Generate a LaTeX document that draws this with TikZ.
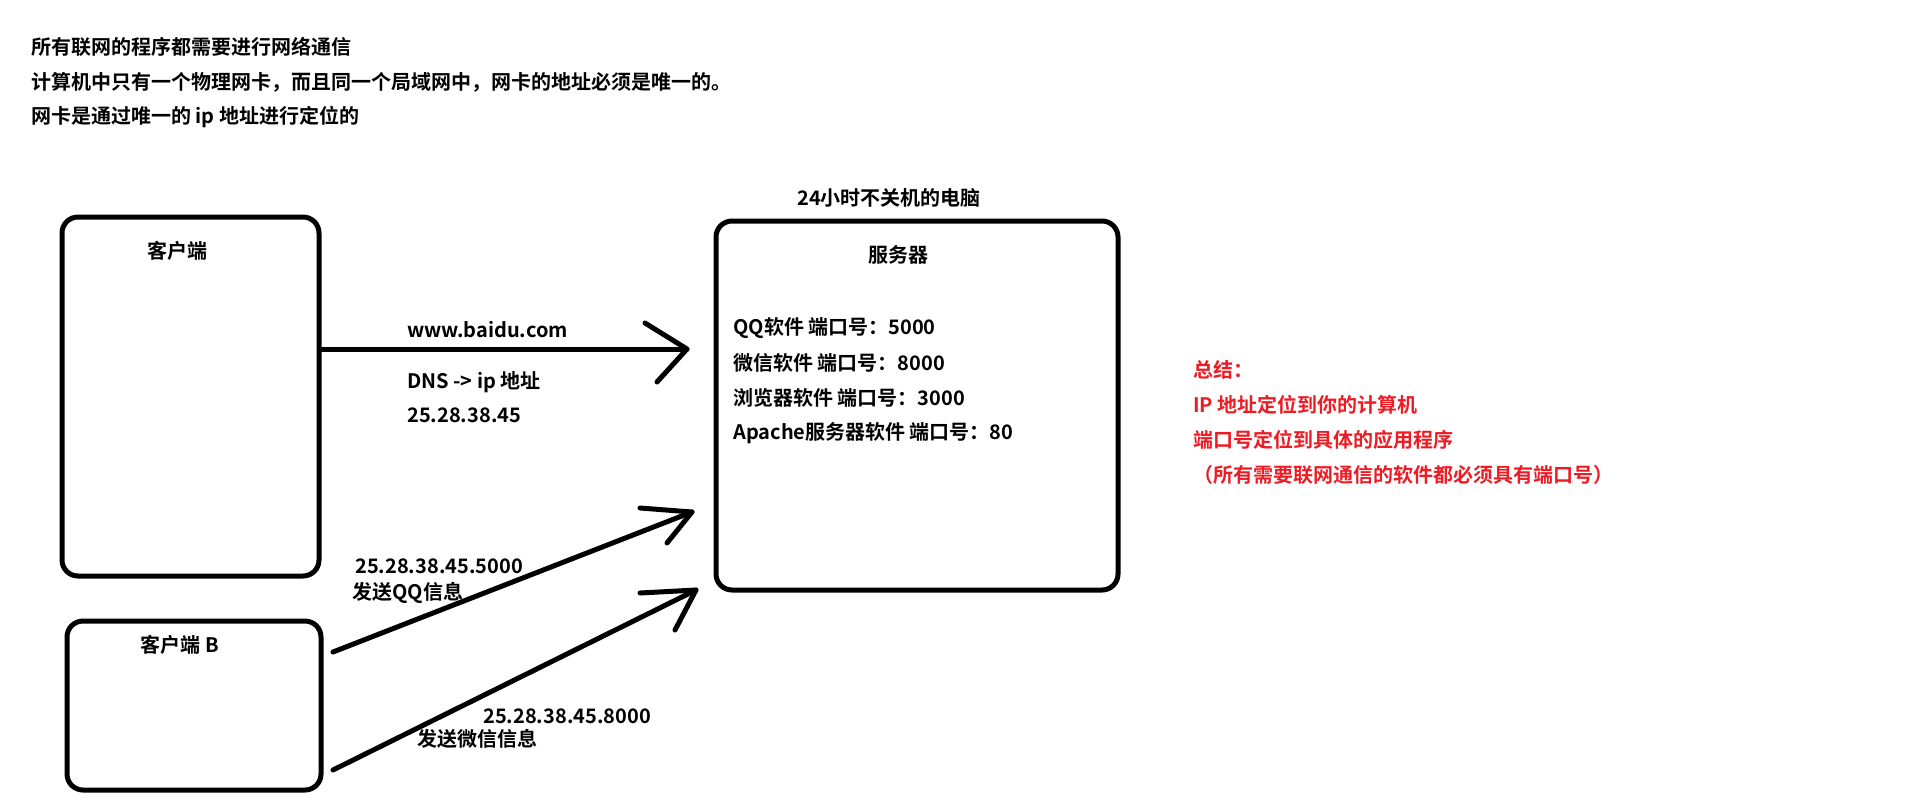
\documentclass[tikz,border=0pt]{standalone}
\usepackage{fontspec}
\setmainfont{Noto Sans CJK SC}[BoldFont={Noto Sans CJK SC Bold}]
\usetikzlibrary{calc}
\definecolor{notered}{RGB}{237,28,36}
\tikzset{
  txt/.style={inner sep=0pt, anchor=west, font=\fontsize{20}{24}\selectfont\bfseries},
  ctxt/.style={txt, anchor=center},
  redtxt/.style={txt, text=notered},
  box/.style={draw=black, line width=5pt, rounded corners=16pt, inner sep=0pt},
  conn/.style={draw=black, line width=5pt, line cap=round, line join=round},
}
\begin{document}
\begin{tikzpicture}[x=1pt, y=-1pt]
  \fill[white] (0,0) rectangle (1910,804);
  \useasboundingbox (0,0) rectangle (1910,804);

  % notes at the top
  \node[txt] (n1) at (31,47) {所有联网的程序都需要进行网络通信};
  \node[txt] (n2) at (31,82) {计算机中只有一个物理网卡，而且同一个局域网中，网卡的地址必须是唯一的。};
  \node[txt] (n3) at (31,117) {网卡是通过唯一的 ip 地址进行定位的};

  % machines
  \node[box, minimum width=257pt, minimum height=359pt] (client) at (190.5,396.5) {};
  \node[ctxt] (clientlbl) at (177,251) {客户端};
  \node[box, minimum width=254pt, minimum height=169pt] (clientb) at (194,705.5) {};
  \node[ctxt] (clientblbl) at (180,645) {客户端 B};
  \node[box, minimum width=402pt, minimum height=369pt] (server) at (917,405.5) {};
  \node[ctxt] (servertop) at (889,198) {24小时不关机的电脑};
  \node[ctxt] (serverlbl) at (898,255) {服务器};
  \node[txt] (p1) at (733,328) {QQ软件 端口号：5000};
  \node[txt] (p2) at (733,363) {微信软件 端口号：8000};
  \node[txt] (p3) at (733,398) {浏览器软件 端口号：3000};
  \node[txt] (p4) at (733,433) {Apache服务器软件 端口号：80};

  % lookup by domain name
  \coordinate (tipA) at (687,349);
  \draw[conn] (client.east |- tipA) -- (tipA);
  \draw[conn] ($(tipA)+(-42,-26)$) -- (tipA) -- ($(tipA)+(-30,33)$);
  \node[txt] (dom) at (407,330) {www.baidu.com};
  \node[txt] (dns) at (407,382) {DNS -> ip 地址};
  \node[txt] (ip) at (407,415) {25.28.38.45};

  % messages sent from client B
  \coordinate (qqStart) at (333,652);
  \coordinate (tipB) at (692,512);
  \draw[conn] (qqStart) -- (tipB);
  \draw[conn] ($(tipB)+(-52,-4)$) -- (tipB) -- ($(tipB)+(-25,31)$);
  \node[txt] (qqaddr) at (355,566) {25.28.38.45.5000};
  \node[txt] (qqmsg) at (352,593) {发送QQ信息};

  \coordinate (wxStart) at (333,770);
  \coordinate (tipC) at (696,590);
  \draw[conn] (wxStart) -- (tipC);
  \draw[conn] ($(tipC)+(-56,3)$) -- (tipC) -- ($(tipC)+(-21,40)$);
  \node[txt] (wxaddr) at (483,716) {25.28.38.45.8000};
  \node[txt] (wxmsg) at (417,739) {发送微信信息};

  % summary
  \node[redtxt] (s1) at (1193,370) {总结：};
  \node[redtxt] (s2) at (1193,405) {IP 地址定位到你的计算机};
  \node[redtxt] (s3) at (1193,440) {端口号定位到具体的应用程序};
  \node[redtxt] (s4) at (1193,475) {（所有需要联网通信的软件都必须具有端口号）};
\end{tikzpicture}
\end{document}
